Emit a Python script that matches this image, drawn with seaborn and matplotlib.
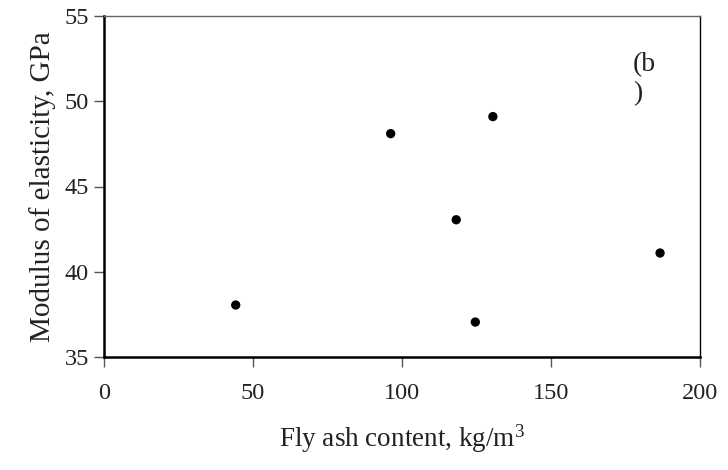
import matplotlib
matplotlib.use("Agg")
import matplotlib.pyplot as plt
import seaborn as sns
import pandas as pd

fly_ash = [44.2, 96.2, 130.5, 118.2, 124.6, 186.6]
modulus = [38.05, 48.1, 49.1, 43.05, 37.05, 41.1]
x_ticks = [0, 50, 100, 150, 200]
y_ticks = [35, 40, 45, 50, 55]

sns.set_theme(style="ticks")
plt.rcParams["font.family"] = ["Liberation Serif", "DejaVu Serif"]
plt.rcParams["mathtext.fontset"] = "custom"
plt.rcParams["mathtext.rm"] = "Liberation Serif"

df = pd.DataFrame({"x": fly_ash, "y": modulus})

fig = plt.figure(figsize=(7.28, 4.70), dpi=100)
ax = fig.add_axes([104/728, 1-357/470, (700-104)/728, (357-16)/470])
sns.scatterplot(data=df, x="x", y="y", ax=ax, color="black", s=45,
                edgecolor="none", legend=False)

ax.set_xlim(0, 200)
ax.set_ylim(35, 55)
ax.set_xticks(x_ticks)
ax.set_yticks(y_ticks)
ax.tick_params(axis="both", labelsize=17.5, direction="out", length=7,
               width=1, color="#555555", labelcolor="#222222", pad=12)
ax.tick_params(axis="y", pad=4)
for side in ["left", "bottom"]:
    ax.spines[side].set_linewidth(1.8)
    ax.spines[side].set_color("black")
for side in ["top", "right"]:
    ax.spines[side].set_visible(True)
    ax.spines[side].set_linewidth(1.0)
ax.spines["top"].set_color("#666666")
ax.spines["right"].set_color("black")

ax.set_xlabel("Fly ash content, kg/m$\\mathregular{^3}$", fontsize=19.5, labelpad=13, color="#222222")
ax.set_ylabel("Modulus of elasticity, GPa", fontsize=21, labelpad=6, color="#222222")

ax.text(177.5, 51.3, "(b\n)", fontsize=20, ha="left", va="center", linespacing=1.2, color="#222222")

fig.savefig("out.png", dpi=100)
